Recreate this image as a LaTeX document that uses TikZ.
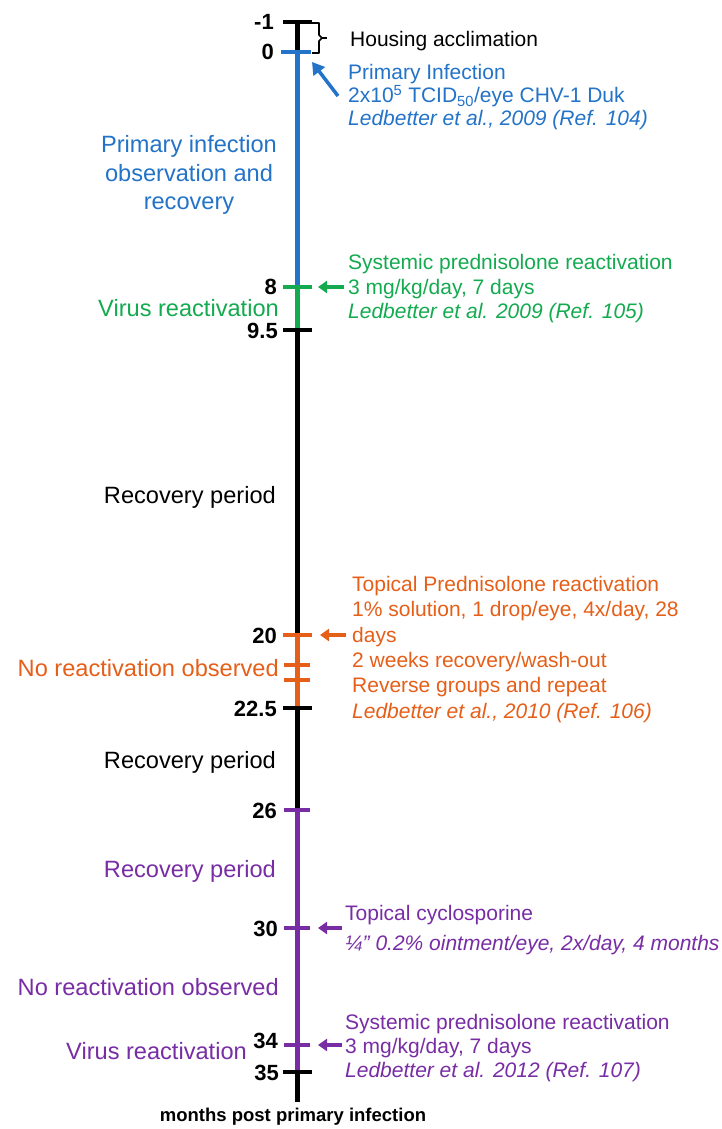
\documentclass[tikz,border=0pt]{standalone}
\usepackage{fontspec}
\setmainfont{Liberation Sans}
\usetikzlibrary{arrows.meta}
\definecolor{cblue}{RGB}{35,115,200}
\definecolor{cgreen}{RGB}{20,170,80}
\definecolor{corange}{RGB}{230,95,25}
\definecolor{cpurple}{RGB}{120,45,165}
\tikzset{
 axisseg/.style={line width=5pt},
 tickmark/.style={line width=4pt},
 ticklabel/.style={font=\fontsize{22}{26}\selectfont\bfseries, anchor=base east, inner sep=0pt},
 txt/.style={font=\fontsize{21}{25}\selectfont, anchor=base west, inner sep=0pt},
 ltxt/.style={font=\fontsize{23.6}{28}\selectfont, anchor=base east, inner sep=0pt},
 ctxt/.style={font=\fontsize{23.6}{28}\selectfont, anchor=base, inner sep=0pt},
 pointer/.style={line width=3.5pt, -{Triangle[length=9pt,width=12pt]}},
}
\begin{document}
\begin{tikzpicture}[x=1pt,y=-1pt]
\useasboundingbox[fill=white] (0,0) rectangle (721,1129);
% axis segments
\draw[axisseg,black] (297,22) -- (297,52);
\draw[axisseg,cblue] (297,52) -- (297,287);
\draw[axisseg,cgreen] (297,287) -- (297,330);
\draw[axisseg,black] (297,330) -- (297,635);
\draw[axisseg,corange] (297,635) -- (297,708);
\draw[axisseg,black] (297,708) -- (297,810);
\draw[axisseg,cpurple] (297,810) -- (297,1072);
\draw[axisseg,black] (297,1072) -- (297,1102);
% ticks
\draw[tickmark,black] (283,22) -- (312,22);
\draw[tickmark,cblue] (281,52) -- (311,52);
\draw[tickmark,cgreen] (283,287) -- (312,287);
\draw[tickmark,black] (283,330) -- (312,330);
\draw[tickmark,corange] (283,635) -- (312,635);
\draw[tickmark,corange] (284,665) -- (310,665);
\draw[tickmark,corange] (284,680) -- (310,680);
\draw[tickmark,black] (283,708) -- (312,708);
\draw[tickmark,cpurple] (284,810) -- (310,810);
\draw[tickmark,cpurple] (284,928) -- (310,928);
\draw[tickmark,cpurple] (284,1045) -- (310,1045);
\draw[tickmark,black] (283,1072) -- (312,1072);
% tick labels
\node[ticklabel] (lm1) at (274,30) {-1};
\node[ticklabel] (l0) at (274,60) {0};
\node[ticklabel] (l8) at (277,294) {8};
\node[ticklabel] (l95) at (278,338) {9.5};
\node[ticklabel] (l20) at (277,643) {20};
\node[ticklabel] (l225) at (277,716) {22.5};
\node[ticklabel] (l26) at (277,818) {26};
\node[ticklabel] (l30) at (278,936) {30};
\node[ticklabel] (l34) at (278,1048) {34};
\node[ticklabel] (l35) at (279,1080) {35};
% housing bracket
\draw[line width=1.6pt, line join=round] (312,23) -- (319,23) -- (319,35) -- (322,38) -- (319,41) -- (319,53) -- (312,53);
\coordinate (brtip) at (327,38);
\draw[line width=1.6pt] (321,38) -- (brtip);
\node[txt] (house) at (350,47) {Housing acclimation};
% blue
\coordinate (bA) at (338,96);
\coordinate (bB) at (312,62);
\draw[pointer,cblue,-{Triangle[length=12pt,width=14pt]}] (bA) -- (bB);
\node[txt,text=cblue] (b1) at (348,80) {Primary Infection};
\node[txt,text=cblue] (b2) at (348,103) {2x10\textsuperscript{5} TCID\textsubscript{50}/eye CHV-1 Duk};
\node[txt,text=cblue] (b3) at (348,126) {\itshape Ledbetter et al., 2009 (Ref. 104)};
\node[ctxt,text=cblue] (bl1) at (189,153) {Primary infection};
\node[ctxt,text=cblue] (bl2) at (189,181) {observation and};
\node[ctxt,text=cblue] (bl3) at (189,209) {recovery};
% green
\coordinate (gA) at (344,287);
\coordinate (gB) at (318,287);
\draw[pointer,cgreen] (gA) -- (gB);
\node[txt,text=cgreen] (g1) at (348,269) {Systemic prednisolone reactivation};
\node[txt,text=cgreen] (g2) at (348,294) {3 mg/kg/day, 7 days};
\node[txt,text=cgreen] (g3) at (348,318) {\itshape Ledbetter et al. 2009 (Ref. 105)};
\node[ltxt,text=cgreen] (gl) at (279,316) {Virus reactivation};
% recovery
\node[ltxt] (rec1) at (276,503) {Recovery period};
% orange
\coordinate (oA) at (346,635);
\coordinate (oB) at (320,635);
\draw[pointer,corange] (oA) -- (oB);
\node[txt,text=corange] (o1) at (352,591) {Topical Prednisolone reactivation};
\node[txt,text=corange] (o2) at (352,616) {1\% solution, 1 drop/eye, 4x/day, 28};
\node[txt,text=corange] (o3) at (352,642) {days};
\node[txt,text=corange] (o4) at (352,667) {2 weeks recovery/wash-out};
\node[txt,text=corange] (o5) at (352,692) {Reverse groups and repeat};
\node[txt,text=corange] (o6) at (352,718) {\itshape Ledbetter et al., 2010 (Ref. 106)};
\node[ltxt,text=corange] (ol) at (279,676) {No reactivation observed};
\node[ltxt] (rec2) at (276,768) {Recovery period};
% purple
\node[ltxt,text=cpurple] (rec3) at (276,877) {Recovery period};
\coordinate (pA) at (342,928);
\coordinate (pB) at (318,928);
\draw[pointer,cpurple] (pA) -- (pB);
\node[txt,text=cpurple] (p1) at (345,920) {Topical cyclosporine};
\node[txt,text=cpurple] (p2) at (345,950) {\itshape ¼” 0.2\% ointment/eye, 2x/day, 4 months};
\node[ltxt,text=cpurple] (pl1) at (279,995) {No reactivation observed};
\coordinate (qA) at (342,1045);
\coordinate (qB) at (318,1045);
\draw[pointer,cpurple] (qA) -- (qB);
\node[txt,text=cpurple] (q1) at (345,1029) {Systemic prednisolone reactivation};
\node[txt,text=cpurple] (q2) at (345,1053) {3 mg/kg/day, 7 days};
\node[txt,text=cpurple] (q3) at (345,1077) {\itshape Ledbetter et al. 2012 (Ref. 107)};
\node[ltxt,text=cpurple] (pl2) at (247,1059) {Virus reactivation};
% axis caption
\node[font=\fontsize{18.5}{22}\selectfont\bfseries, anchor=base, inner sep=0pt] (cap) at (293,1121) {months post primary infection};
\end{tikzpicture}
\end{document}
